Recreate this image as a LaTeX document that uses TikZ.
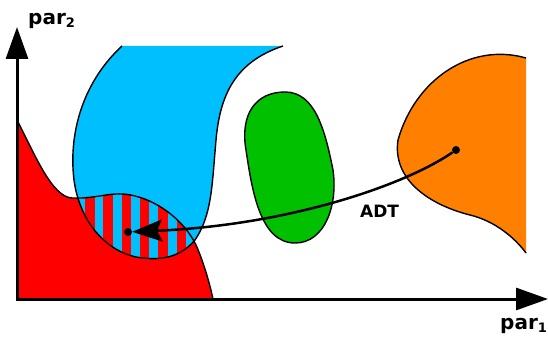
\documentclass[tikz,border=0pt]{standalone}
\usepackage{fontspec}
\setmainfont{DejaVu Sans}
\usetikzlibrary{arrows.meta}
\definecolor{regred}{RGB}{255,0,0}
\definecolor{regblue}{RGB}{0,191,255}
\definecolor{reggreen}{RGB}{0,192,0}
\definecolor{regorange}{RGB}{255,128,0}

% boundary pieces of the regions (open curves, reused for fill and stroke)
\def\redtop{(17,120) .. controls (35,155) and (52,197) .. (72,198)
  .. controls (100,199) and (112,190) .. (135,196)
  .. controls (160,202) and (185,222) .. (196,245)
  .. controls (204,263) and (210,285) .. (213,299)}
\def\blueside{(283,46) .. controls (235,62) and (220,95) .. (216,140)
  .. controls (212,185) and (212,215) .. (195,240)
  .. controls (180,258) and (160,260) .. (143,258)
  .. controls (110,255) and (80,225) .. (74,180)
  .. controls (68,130) and (85,80) .. (122,46)}
\def\orangeedge{(526,58) .. controls (470,42) and (415,80) .. (398,140)
  .. controls (392,180) and (430,205) .. (470,215)
  .. controls (495,221) and (515,238) .. (526,253)}

\begin{document}
\begin{tikzpicture}[x=1pt,y=-1pt,
  outline/.style={line width=1.4pt, line join=round},
  axisline/.style={line width=3pt, line join=miter},
  bigtri/.tip={Triangle[length=32pt,width=22pt]},
  dot/.style={circle, fill=black, inner sep=0pt, minimum size=8pt},
  lbl/.style={font=\bfseries\fontsize{20}{20}\selectfont, inner sep=0pt, anchor=base west},
  subnum/.style={}]
\useasboundingbox (0,0) rectangle (548,342);

% filled regions
\fill[regred] (17,299) -- \redtop -- cycle;
\fill[regblue] \blueside -- cycle;
\fill[regorange] \orangeedge -- cycle;
\filldraw[fill=reggreen, outline] (285,92) .. controls (255,92) and (240,115) .. (246,150)
  .. controls (252,190) and (260,243) .. (295,243)
  .. controls (325,243) and (338,205) .. (333,170)
  .. controls (325,130) and (315,92) .. (285,92) -- cycle;

% overlap of the red and blue regions: vertical stripes
\begin{scope}
  \clip \blueside -- cycle;
  \clip (17,299) -- \redtop -- cycle;
  \foreach \k in {0,...,7}
    \fill[regred] ({85+18.3*\k},180) rectangle ++(9.5,90);
\end{scope}

% region outlines
\draw[outline] \redtop;
\draw[outline] \blueside;
\draw[outline] \orangeedge;

% transfer curve
\node[dot] (src) at (456,150) {};
\node[dot] (dst) at (128,232) {};
\draw[line width=2.5pt, -{Stealth[length=30pt,width=22pt,inset=5pt]}]
  (src) .. controls (405,185) and (290,225) .. (dst);
\node[font=\bfseries\fontsize{17}{17}\selectfont, inner sep=0pt, anchor=base west] (adt) at (360,217) {ADT};

% axes
\coordinate (orig) at (17,299);
\coordinate (ytip) at (17,27);
\coordinate (xtip) at (548,299);
\draw[axisline, {bigtri}-{bigtri}] (ytip) -- (orig) -- (xtip);

\node[lbl] (ylab) at (28,25) {par\raisebox{-3pt}{\fontsize{13}{13}\selectfont 2}};
\node[lbl] (xlab) at (500,329) {par\raisebox{-3pt}{\fontsize{13}{13}\selectfont 1}};
\end{tikzpicture}
\end{document}
